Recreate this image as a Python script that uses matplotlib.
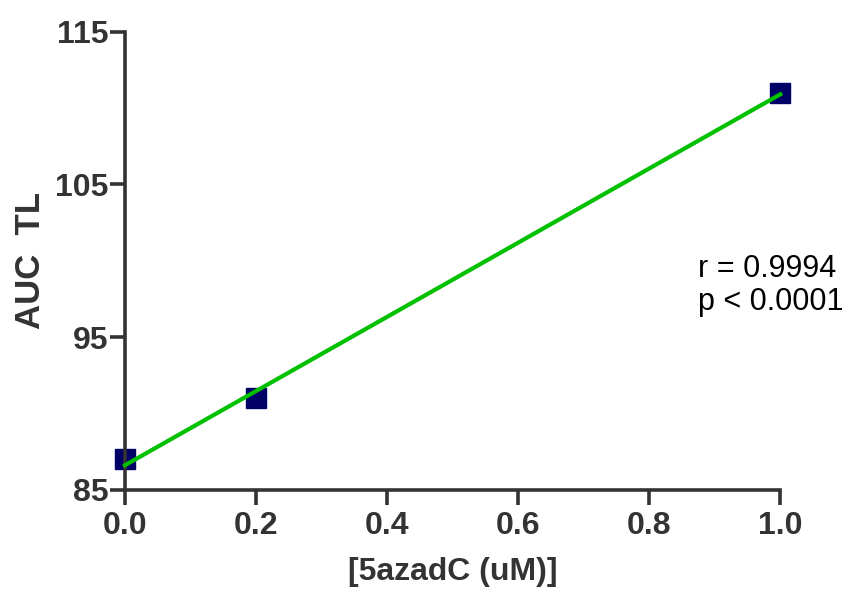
import numpy as np
import matplotlib
matplotlib.use("Agg")
import matplotlib.pyplot as plt

x_vals = [0.0, 0.2, 1.0]
y_vals = [87.0, 91.0, 111.0]
x_ticks = [0.0, 0.2, 0.4, 0.6, 0.8, 1.0]
y_ticks = [85, 95, 105, 115]
annot = "r = 0.9994\np < 0.0001"

plt.rcParams['font.family'] = ['Liberation Sans', 'DejaVu Sans']

fig = plt.figure(figsize=(8.5, 5.99), dpi=100)
ax = fig.add_axes([0.147, 0.182, 0.771, 0.765])

dark = '#333333'
slope, intercept = np.polyfit(x_vals, y_vals, 1)
xf = np.array([min(x_vals), max(x_vals)])
ax.plot(xf, slope * xf + intercept, color='#00C000', lw=3, zorder=3, clip_on=False)
ax.plot(x_vals, y_vals, 's', color='#000066', markersize=14, zorder=2, clip_on=False)

ax.set_xlim(0, 1.0)
ax.set_ylim(85, 115)
ax.set_xticks(x_ticks)
ax.set_xticklabels([f"{t:.1f}" for t in x_ticks])
ax.set_yticks(y_ticks)
ax.set_yticklabels([str(t) for t in y_ticks])

for s in ['top', 'right']:
    ax.spines[s].set_visible(False)
for s in ['left', 'bottom']:
    ax.spines[s].set_linewidth(2.6)
    ax.spines[s].set_color(dark)

ax.tick_params(axis='both', colors=dark, width=2.6, length=11, labelsize=23)
ax.tick_params(axis='y', pad=1)
ax.tick_params(axis='x', pad=4)
for lab in ax.get_xticklabels() + ax.get_yticklabels():
    lab.set_fontweight('bold')
    lab.set_color(dark)

ax.set_xlabel("[5azadC (uM)]", fontsize=23, fontweight='bold', color=dark, labelpad=12)
ax.set_ylabel("AUC  TL", fontsize=25, fontweight='bold', color=dark, labelpad=6)

ax.text(0.875, 98.4, annot, fontsize=22, color='black', ha='left', va='center', linespacing=1.15)

fig.savefig("out.png", dpi=100)
